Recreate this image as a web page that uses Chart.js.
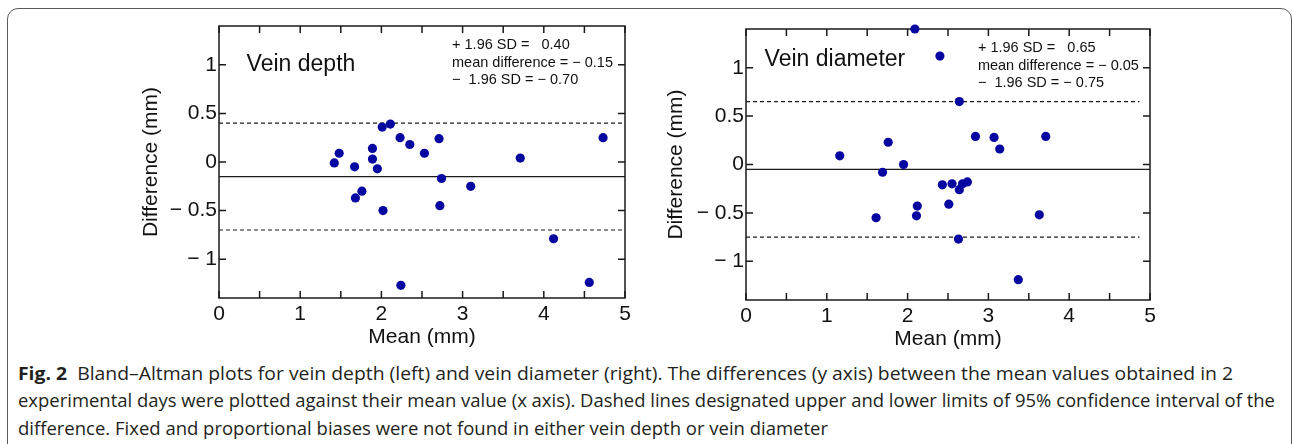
<!DOCTYPE html>
<html>
<head>
<meta charset="utf-8">
<script src="https://cdn.jsdelivr.net/npm/chart.js@4.4.1/dist/chart.umd.min.js"></script>
<style>
  body { margin: 0; width: 1292px; height: 444px; overflow: hidden; background: #fff; position: relative; }
  .frame { position: absolute; left: 7px; top: 8px; width: 1285px; height: 470px; border: 1.5px solid #5a5a5a; border-radius: 11px; box-sizing: border-box; }
  .plot { position: absolute; width: 510px; height: 340px; }
  .cap { position: absolute; left: 18px; font-family: "Open Sans", sans-serif; font-size: 17.5px; line-height: 20px; color: #231f20; white-space: nowrap; transform-origin: 0 50%; }
  .cap b { font-weight: 700; }
</style>
</head>
<body>
<div class="frame"></div>
<div class="plot" style="left:139px; top:10px;"><canvas id="depth"></canvas></div>
<div class="plot" style="left:664px; top:12px;"><canvas id="diam"></canvas></div>
<div class="cap" id="c1" style="top:363px;"><b>Fig. 2</b>&nbsp; Bland–Altman plots for vein depth (left) and vein diameter (right). The differences (y axis) between the mean values obtained in 2</div>
<div class="cap" id="c2" style="top:390px;">experimental days were plotted against their mean value (x axis). Dashed lines designated upper and lower limits of 95% confidence interval of the</div>
<div class="cap" id="c3" style="top:418px;">difference. Fixed and proportional biases were not found in either vein depth or vein diameter</div>
<script>
// vein depth: mean of 2 days (x) vs difference (y)
const depthMean = [1.42, 1.48, 1.67, 1.68, 1.76, 1.89, 1.89, 1.95, 2.01, 2.11, 2.02, 2.23, 2.24, 2.35, 2.53, 2.71, 2.74, 2.72, 3.10, 3.71, 4.12, 4.56, 4.73];
const depthDiff = [-0.01, 0.09, -0.05, -0.37, -0.30, 0.14, 0.03, -0.07, 0.36, 0.39, -0.50, 0.25, -1.27, 0.18, 0.09, 0.24, -0.17, -0.45, -0.25, 0.04, -0.79, -1.24, 0.25];
const depthLimits = [0.40, -0.15, -0.70]; // +1.96 SD, mean difference, -1.96 SD

// vein diameter
const diamMean = [2.09, 2.40, 2.64, 1.16, 1.76, 1.95, 1.69, 1.61, 2.12, 2.11, 2.43, 2.55, 2.51, 2.64, 2.68, 2.74, 2.63, 2.84, 3.07, 3.14, 3.71, 3.63, 3.37];
const diamDiff = [1.40, 1.12, 0.65, 0.09, 0.23, 0.00, -0.08, -0.55, -0.43, -0.53, -0.21, -0.20, -0.41, -0.26, -0.20, -0.18, -0.77, 0.29, 0.28, 0.16, 0.29, -0.52, -1.19];
const diamLimits = [0.65, -0.05, -0.75];

const xTickValues = [0, 1, 2, 3, 4, 5];
const yTickValues = [-1, -0.5, 0, 0.5, 1];
const yTickLabels = ['− 1', '− 0.5', '0', '0.5', '1'];
const xTickMarks = [0, 0.5, 1, 1.5, 2, 2.5, 3, 3.5, 4, 4.5, 5];
const yTickMarks = [-1, -0.5, 0, 0.5, 1];

const fmt = v => (v < 0 ? '− ' + Math.abs(v).toFixed(2) : '  ' + v.toFixed(2));

const boxPlugin = {
  id: 'box',
  beforeDatasetsDraw(chart) {
    const {ctx, chartArea: a, scales: {x, y}} = chart;
    ctx.save();
    ctx.strokeStyle = '#1a1a1a';
    ctx.lineWidth = 1.5;
    ctx.strokeRect(a.left, a.top, a.right - a.left, a.bottom - a.top);
    ctx.beginPath();
    const t = 7;
    xTickMarks.forEach(v => {
      const px = x.getPixelForValue(v);
      ctx.moveTo(px, a.top); ctx.lineTo(px, a.top + t);
      ctx.moveTo(px, a.bottom); ctx.lineTo(px, a.bottom - t);
    });
    yTickMarks.forEach(v => {
      const py = y.getPixelForValue(v);
      ctx.moveTo(a.left, py); ctx.lineTo(a.left + t, py);
      ctx.moveTo(a.right, py); ctx.lineTo(a.right - t, py);
    });
    ctx.stroke();
    ctx.restore();
  },
  afterDraw(chart) {
    const o = chart.options.plugins.box;
    const {ctx, scales: {x, y}} = chart;
    ctx.save();
    ctx.fillStyle = '#111';
    ctx.textBaseline = 'middle';
    ctx.font = '23px "Liberation Sans", Arial, sans-serif';
    ctx.fillText(o.title, x.getPixelForValue(o.titlePos[0]), y.getPixelForValue(o.titlePos[1]));
    ctx.font = '14.5px "Liberation Sans", Arial, sans-serif';
    const L = o.limits;
    const lines = ['+ 1.96 SD = ' + fmt(L[0]), 'mean difference = ' + fmt(L[1]), '−  1.96 SD = ' + fmt(L[2])];
    const sx = x.getPixelForValue(2.87);
    lines.forEach((s, i) => ctx.fillText(s, sx, y.getPixelForValue(1.2) + i * 17.5));
    ctx.restore();
  }
};

function makeChart(id, means, diffs, limits, dashEnd, title, titlePos, yWidth, topPad) {
  const pts = means.map((m, i) => ({x: m, y: diffs[i]}));
  const hline = (v, end) => [{x: 0, y: v}, {x: end, y: v}];
  const lineDs = (v, end, dash) => ({
    type: 'line', data: hline(v, end), borderColor: '#1a1a1a', borderWidth: 1.2,
    borderDash: dash, pointRadius: 0, fill: false, order: 2
  });
  new Chart(document.getElementById(id), {
    type: 'scatter',
    data: {
      datasets: [
        {data: pts, backgroundColor: '#0606a0', borderWidth: 0, pointRadius: 4.6, clip: false, order: 0},
        lineDs(limits[0], dashEnd, [4, 3]),
        lineDs(limits[1], 5, []),
        lineDs(limits[2], dashEnd, [4, 3])
      ]
    },
    options: {
      responsive: false,
      animation: false,
      layout: {padding: {left: 0, right: 24, top: topPad, bottom: 0}},
      plugins: {
        legend: {display: false},
        tooltip: {enabled: false},
        box: {title: title, titlePos: titlePos, limits: limits}
      },
      scales: {
        x: {
          type: 'linear', min: 0, max: 5,
          afterBuildTicks: s => { s.ticks = xTickValues.map(v => ({value: v})); },
          afterFit: s => { s.height = 52; },
          grid: {display: false, drawTicks: false},
          border: {display: false},
          ticks: {padding: 4, color: '#111', font: {family: '"Liberation Sans", Arial, sans-serif', size: 21}},
          title: {display: true, text: 'Mean (mm)', color: '#111', padding: 0,
                  font: {family: '"Liberation Sans", Arial, sans-serif', size: 21}}
        },
        y: {
          type: 'linear', min: -1.4, max: 1.4,
          afterBuildTicks: s => { s.ticks = yTickValues.map(v => ({value: v})); },
          afterFit: s => { s.width = yWidth; },
          grid: {display: false, drawTicks: false},
          border: {display: false},
          ticks: {padding: 2, color: '#111', callback: v => yTickLabels[yTickValues.indexOf(v)],
                  font: {family: '"Liberation Sans", Arial, sans-serif', size: 21}},
          title: {display: true, text: 'Difference (mm)', color: '#111', padding: 0,
                  font: {family: '"Liberation Sans", Arial, sans-serif', size: 21}}
        }
      }
    },
    plugins: [boxPlugin]
  });
}

const c1 = document.getElementById('depth'); c1.width = 510; c1.height = 340;
const c2 = document.getElementById('diam'); c2.width = 510; c2.height = 340;
makeChart('depth', depthMean, depthDiff, depthLimits, 4.97, 'Vein depth', [0.34, 1.0], 80, 16);
makeChart('diam', diamMean, diamDiff, diamLimits, 4.87, 'Vein diameter', [0.23, 1.085], 82, 17);

// fit caption lines to the widths they have in the figure
[['c1', 1215], ['c2', 1257], ['c3', 810]].forEach(([id, w]) => {
  const el = document.getElementById(id);
  el.style.transform = 'scaleX(' + (w / el.getBoundingClientRect().width) + ')';
});
</script>
</body>
</html>
